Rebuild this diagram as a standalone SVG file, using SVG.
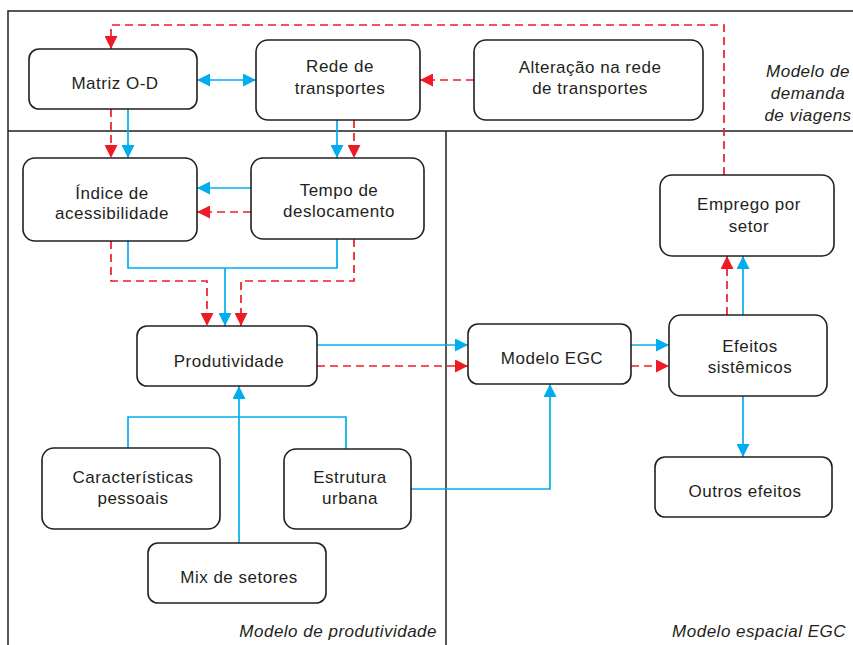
<svg xmlns="http://www.w3.org/2000/svg" width="853" height="645" viewBox="0 0 853 645">
<defs>
<marker id="ab" markerUnits="userSpaceOnUse" markerWidth="14" markerHeight="13" refX="13" refY="6.5" orient="auto-start-reverse"><path d="M0,0 L13,6.5 L0,13 z" fill="#00aeef"/></marker>
<marker id="ar" markerUnits="userSpaceOnUse" markerWidth="14" markerHeight="13" refX="13" refY="6.5" orient="auto-start-reverse"><path d="M0,0 L13,6.5 L0,13 z" fill="#ed1c24"/></marker>
</defs>
<style>
.frame{stroke:#231f20;stroke-width:1.5;fill:none}
.box{fill:#fff;stroke:#231f20;stroke-width:1.6}
.t{font-family:"Liberation Sans",Arial,sans-serif;font-size:17px;letter-spacing:0.5px;fill:#231f20;text-anchor:middle}
.lbl{font-family:"Liberation Sans",Arial,sans-serif;font-size:17px;font-style:italic;letter-spacing:0.5px;fill:#231f20}
.b{stroke:#00aeef;stroke-width:1.7;fill:none}
.r{stroke:#ed1c24;stroke-width:1.7;fill:none;stroke-dasharray:8 5}
.ba{marker-end:url(#ab)}
.ra{marker-end:url(#ar)}
</style>
<rect width="853" height="645" fill="#fff"/>
<g id="frame">
<path class="frame" d="M8,645 V11 H853 M8,131 H853 M446,131 V645"/>
<text class="lbl" x="808" y="77" text-anchor="middle">Modelo de</text>
<text class="lbl" x="808" y="99" text-anchor="middle">demanda</text>
<text class="lbl" x="808" y="121" text-anchor="middle">de viagens</text>
<text class="lbl" x="437" y="637" text-anchor="end">Modelo de produtividade</text>
<text class="lbl" x="846" y="637" text-anchor="end">Modelo espacial EGC</text>
</g>
<g id="connectors">
<path class="r ra" d="M724,175 V25 H111 V49"/>
<path class="b ba" d="M197,80 H256" marker-start="url(#ab)"/>
<path class="r ra" d="M474,80 H420"/>
<path class="r ra" d="M111,109 V158"/>
<path class="b ba" d="M128,109 V158"/>
<path class="b ba" d="M337,120 V158"/>
<path class="r ra" d="M354,120 V158"/>
<path class="b ba" d="M251,188 H197"/>
<path class="r ra" d="M251,212 H197"/>
<path class="b" d="M128,241 V268 H337 V239"/>
<path class="b ba" d="M225,268 V326"/>
<path class="r ra" d="M111,241 V281 H207 V326"/>
<path class="r ra" d="M354,239 V281 H241 V326"/>
<path class="b ba" d="M317,345 H468"/>
<path class="r ra" d="M317,366 H468"/>
<path class="b ba" d="M631,345 H669"/>
<path class="r ra" d="M631,366 H669"/>
<path class="r ra" d="M727,315 V256"/>
<path class="b ba" d="M743,315 V256"/>
<path class="b ba" d="M743,396 V457"/>
<path class="b" d="M128,448 V417 H346 V449"/>
<path class="b ba" d="M239,543 V386"/>
<path class="b ba" d="M411,489 H550 V384"/>
</g>
<g id="matriz"><rect class="box" x="29" y="49" width="168" height="60" rx="10"/><text class="t" x="115" y="89">Matriz O-D</text></g>
<g id="rede"><rect class="box" x="256" y="40" width="164" height="80" rx="12"/><text class="t" x="340" y="72">Rede de</text><text class="t" x="340" y="94">transportes</text></g>
<g id="alteracao"><rect class="box" x="474" y="40" width="229" height="80" rx="12"/><text class="t" x="590" y="73">Alteração na rede</text><text class="t" x="590" y="94">de transportes</text></g>
<g id="indice"><rect class="box" x="23" y="158" width="174" height="83" rx="12"/><text class="t" x="112" y="199">Índice de</text><text class="t" x="112" y="219">acessibilidade</text></g>
<g id="tempo"><rect class="box" x="251" y="158" width="173" height="81" rx="12"/><text class="t" x="339" y="196">Tempo de</text><text class="t" x="339" y="217">deslocamento</text></g>
<g id="emprego"><rect class="box" x="660" y="175" width="174" height="81" rx="12"/><text class="t" x="749" y="210">Emprego por</text><text class="t" x="749" y="232">setor</text></g>
<g id="produtividade"><rect class="box" x="137" y="326" width="180" height="60" rx="10"/><text class="t" x="229" y="367">Produtividade</text></g>
<g id="modelo-egc"><rect class="box" x="468" y="324" width="163" height="60" rx="10"/><text class="t" x="552" y="364">Modelo EGC</text></g>
<g id="efeitos"><rect class="box" x="669" y="315" width="158" height="81" rx="12"/><text class="t" x="750" y="352">Efeitos</text><text class="t" x="750" y="373">sistêmicos</text></g>
<g id="caracteristicas"><rect class="box" x="42" y="448" width="178" height="81" rx="12"/><text class="t" x="133" y="483">Características</text><text class="t" x="133" y="504">pessoais</text></g>
<g id="estrutura"><rect class="box" x="284" y="449" width="127" height="80" rx="12"/><text class="t" x="350" y="483">Estrutura</text><text class="t" x="350" y="504">urbana</text></g>
<g id="mix"><rect class="box" x="148" y="543" width="178" height="60" rx="10"/><text class="t" x="239" y="583">Mix de setores</text></g>
<g id="outros"><rect class="box" x="655" y="457" width="177" height="60" rx="10"/><text class="t" x="745" y="497">Outros efeitos</text></g>
</svg>
